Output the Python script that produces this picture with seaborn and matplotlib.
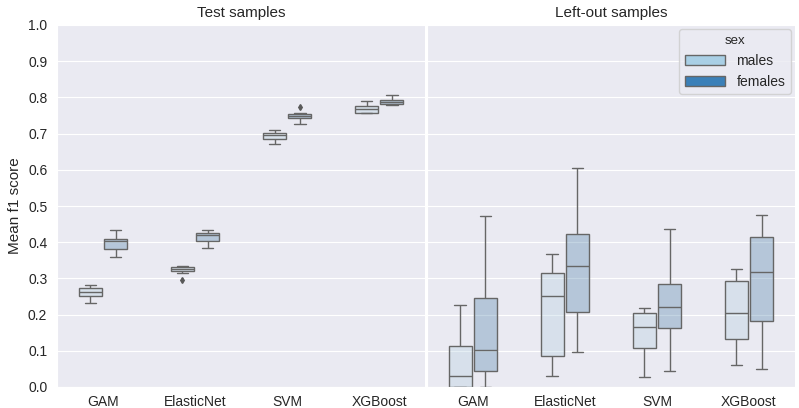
import numpy as np
import pandas as pd
import seaborn as sns
import matplotlib.pyplot as plt
from matplotlib.patches import Patch

models = ["GAM", "ElasticNet", "SVM", "XGBoost"]
sets = ["Test samples", "Left-out samples"]
sexes = ["males", "females"]
colors = ["#a9cfe5", "#3b80b8"]

# scores, 9 values per box (one list per model)
test_males = [
    [0.232, 0.251, 0.251, 0.2625, 0.2625, 0.2625, 0.273, 0.273, 0.281],
    [0.295, 0.315, 0.320, 0.326, 0.326, 0.326, 0.331, 0.335, 0.335],
    [0.670, 0.686, 0.686, 0.695, 0.695, 0.695, 0.7025, 0.7025, 0.711],
    [0.756, 0.758, 0.758, 0.769, 0.769, 0.769, 0.775, 0.775, 0.791],
]
test_females = [
    [0.360, 0.380, 0.380, 0.402, 0.402, 0.402, 0.410, 0.410, 0.433],
    [0.383, 0.402, 0.402, 0.419, 0.419, 0.419, 0.426, 0.426, 0.434],
    [0.727, 0.742, 0.742, 0.749, 0.749, 0.749, 0.754, 0.756, 0.774],
    [0.778, 0.782, 0.782, 0.788, 0.788, 0.788, 0.793, 0.793, 0.806],
]
leftout_males = [
    [0.000, 0.000, 0.000, 0.030, 0.030, 0.030, 0.112, 0.112, 0.227],
    [0.031, 0.085, 0.085, 0.252, 0.252, 0.252, 0.316, 0.316, 0.368],
    [0.028, 0.107, 0.107, 0.167, 0.167, 0.167, 0.204, 0.204, 0.2195],
    [0.062, 0.132, 0.132, 0.204, 0.204, 0.204, 0.293, 0.293, 0.327],
]
leftout_females = [
    [0.000, 0.045, 0.045, 0.101, 0.101, 0.101, 0.247, 0.247, 0.473],
    [0.097, 0.206, 0.206, 0.335, 0.335, 0.335, 0.4215, 0.4215, 0.605],
    [0.045, 0.162, 0.162, 0.220, 0.220, 0.220, 0.284, 0.284, 0.437],
    [0.049, 0.181, 0.181, 0.318, 0.318, 0.318, 0.415, 0.415, 0.475],
]

rows = []
groups = [(sets[0], "males", test_males), (sets[0], "females", test_females),
          (sets[1], "males", leftout_males), (sets[1], "females", leftout_females)]
for s, sex, vals in groups:
    for m, scores in zip(models, vals):
        for v in scores:
            rows.append({"set": s, "sex": sex, "model": m, "score": v})
df = pd.DataFrame(rows)

sns.set_style("darkgrid")
plt.rcParams['font.family'] = ['Liberation Sans', 'DejaVu Sans']

g = sns.catplot(data=df, x="model", y="score", hue="sex", col="set", kind="box",
                order=models, hue_order=sexes, col_order=sets, palette=colors,
                width=0.55, gap=0.1, linecolor="0.4", linewidth=1,
                flierprops={"marker": "d", "markersize": 3, "markerfacecolor": "0.35",
                            "markeredgecolor": "0.35"},
                legend=False, height=4.08, aspect=1)
g.figure.set_size_inches(7.99, 4.08)
g.figure.subplots_adjust(left=57/799, right=795/799, top=1-25/408,
                         bottom=1-387/408, wspace=0.004)

# boxes drawn faded, legend keeps the full colours
for ax in g.axes.flat:
    for p in ax.patches:
        fc = p.get_facecolor()
        p.set_facecolor((fc[0], fc[1], fc[2], 0.33))
    ax.set_ylim(0, 1.0)
    ax.set_yticks(np.arange(0, 1.01, 0.1))
    ax.tick_params(labelsize=10)
    ax.tick_params(axis="x", pad=2)

g.set_titles("{col_name}", size=11)
g.set_axis_labels("", "Mean f1 score", fontsize=11)
g.axes[0, 0].set_yticklabels([f"{t:.1f}" for t in np.arange(0, 1.01, 0.1)])

handles = [Patch(facecolor=c, edgecolor="0.4", label=l) for c, l in zip(colors, sexes)]
g.axes[0, 1].legend(handles=handles, title="sex", loc="upper right", fontsize=10,
                    title_fontsize=9.5, handlelength=2.9, borderaxespad=0.3)

plt.savefig("out.png", dpi=100)
